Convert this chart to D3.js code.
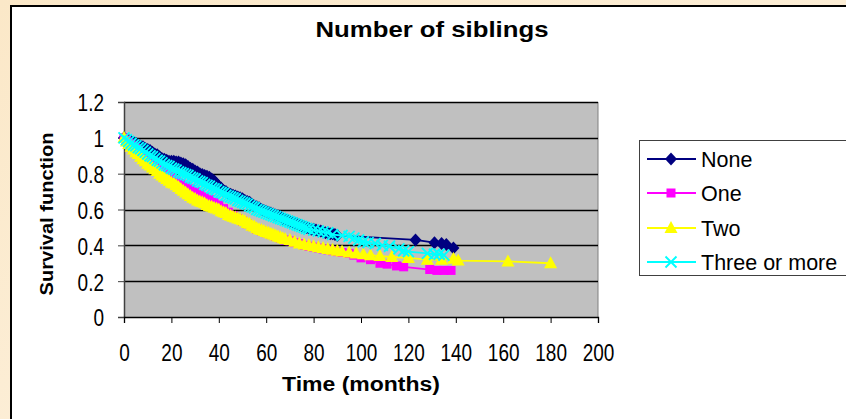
<!DOCTYPE html>
<html><head><meta charset="utf-8">
<script src="https://cdn.jsdelivr.net/npm/d3@7"></script>
<style>body{margin:0;overflow:hidden}svg{display:block}text{font-family:"Liberation Sans",Arial,sans-serif}</style>
</head><body><svg id="c" width="846" height="419"></svg>
<script>
const title = "Number of siblings";
const xLabel = "Time (months)";
const yLabel = "Survival function";
const xTicks = [0,20,40,60,80,100,120,140,160,180,200];
const yTicks = [0,0.2,0.4,0.6,0.8,1,1.2];
const seriesNames = ["None","One","Two","Three or more"];
const seriesColors = ["#000080","#FF00FF","#FFFF00","#00FFFF"];

const noneTime = [0,1,2,3,4,5,6,7,8,9,10,11,12,13,14,15,16,17,18,19,20,21,22,23,24,25,26,27,28,29,30,31,32,33,34,35,36,37,38,39,40,41,42,43,44,45,46,47,48,49,50,51,52,53,54,55,56,57,58,59,60,61,62,63,64,65,66,67,68,69,70,71,72,73,74,75,76,77,78,79,80,81,82,83,84,85,86,87,88,89,90,123,131,134,136,139];
const noneSurv = [1,0.99,0.985,0.98,0.975,0.97,0.96,0.955,0.95,0.94,0.935,0.93,0.92,0.91,0.905,0.895,0.885,0.88,0.875,0.87,0.87,0.87,0.865,0.865,0.86,0.855,0.85,0.84,0.83,0.825,0.815,0.81,0.8,0.795,0.79,0.785,0.78,0.77,0.76,0.745,0.73,0.72,0.705,0.7,0.69,0.685,0.68,0.675,0.67,0.665,0.66,0.65,0.645,0.64,0.63,0.62,0.615,0.61,0.6,0.595,0.59,0.585,0.58,0.575,0.57,0.565,0.56,0.55,0.545,0.54,0.535,0.53,0.525,0.52,0.515,0.51,0.505,0.5,0.495,0.49,0.49,0.485,0.48,0.48,0.475,0.47,0.47,0.465,0.465,0.46,0.455,0.43,0.415,0.41,0.405,0.385];

const oneTime = [0,1,2,3,4,5,6,7,8,9,10,11,12,13,14,15,16,17,18,19,20,22,24,26,28,30,32,34,36,38,40,42,44,46,48,50,52,54,56,58,60,62,64,66,68,70,72,74,76,78,80,82,84,86,88,90,92,95,97,100,104,108,111,115,118,129,132,135,138];
const oneSurv = [1,0.985,0.97,0.96,0.95,0.94,0.93,0.915,0.905,0.895,0.88,0.87,0.86,0.85,0.84,0.83,0.82,0.81,0.795,0.785,0.775,0.76,0.745,0.73,0.715,0.7,0.685,0.67,0.655,0.64,0.625,0.605,0.585,0.565,0.55,0.535,0.52,0.505,0.49,0.48,0.47,0.46,0.45,0.44,0.43,0.425,0.415,0.41,0.4,0.395,0.39,0.385,0.38,0.375,0.37,0.365,0.36,0.355,0.345,0.33,0.32,0.3,0.295,0.285,0.28,0.265,0.26,0.26,0.26];

const twoTime = [0,1,2,3,4,5,6,7,8,9,10,11,12,13,14,15,16,17,18,19,20,21,22,23,24,25,26,27,28,29,30,31,32,33,34,35,36,37,38,39,40,41,42,43,44,45,46,47,48,49,50,51,52,53,54,55,56,57,58,59,60,61,62,63,64,65,66,67,68,70,72,74,76,78,80,82,84,86,88,90,92,95,98,101,104,108,113,120,128,134,139,141,162,180];
const twoSurv = [1,0.98,0.965,0.95,0.935,0.92,0.91,0.895,0.88,0.87,0.855,0.845,0.835,0.825,0.815,0.8,0.79,0.78,0.77,0.76,0.75,0.745,0.735,0.725,0.715,0.705,0.695,0.685,0.675,0.665,0.66,0.65,0.645,0.64,0.635,0.625,0.62,0.615,0.61,0.605,0.6,0.59,0.585,0.58,0.57,0.565,0.56,0.555,0.55,0.545,0.54,0.535,0.525,0.52,0.51,0.505,0.495,0.49,0.485,0.48,0.475,0.47,0.465,0.46,0.455,0.45,0.445,0.44,0.435,0.43,0.42,0.41,0.405,0.4,0.395,0.39,0.385,0.38,0.375,0.37,0.365,0.36,0.355,0.35,0.345,0.34,0.335,0.33,0.32,0.32,0.325,0.315,0.31,0.3];

const threeTime = [0,1,2,3,4,5,6,7,8,9,10,11,12,13,14,15,16,17,18,19,20,21,22,23,24,25,26,27,28,29,30,31,32,33,34,35,36,37,38,39,40,41,42,43,44,45,46,47,48,49,50,51,52,53,54,55,56,57,58,59,60,61,62,63,64,65,66,67,68,69,70,71,72,73,74,75,76,77,78,80,82,84,86,88,92,95,97,99,101,103,106,109,112,116,118,120,128,131,133,135];
const threeSurv = [1,0.99,0.98,0.97,0.96,0.955,0.945,0.94,0.93,0.92,0.91,0.9,0.895,0.885,0.875,0.87,0.86,0.85,0.845,0.84,0.83,0.825,0.82,0.81,0.805,0.8,0.795,0.79,0.78,0.775,0.77,0.76,0.755,0.75,0.74,0.735,0.73,0.72,0.715,0.71,0.7,0.695,0.69,0.68,0.675,0.67,0.665,0.66,0.65,0.645,0.64,0.635,0.63,0.62,0.615,0.61,0.6,0.595,0.59,0.585,0.58,0.575,0.57,0.565,0.56,0.555,0.55,0.545,0.54,0.535,0.53,0.525,0.52,0.515,0.51,0.505,0.5,0.495,0.49,0.485,0.48,0.475,0.47,0.46,0.455,0.45,0.44,0.43,0.42,0.415,0.41,0.4,0.395,0.38,0.37,0.365,0.355,0.35,0.35,0.345];

const seriesTimes = [noneTime, oneTime, twoTime, threeTime];
const seriesSurv = [noneSurv, oneSurv, twoSurv, threeSurv];
const markerTypes = ["diamond","square","triangle","x"];

const svg = d3.select("#c");
const defs = svg.append("defs");
const g = defs.append("linearGradient").attr("id","bg").attr("x1","0").attr("y1","0").attr("x2","1").attr("y2","1");
g.append("stop").attr("offset","0").attr("stop-color","#FBE8C8");
g.append("stop").attr("offset","1").attr("stop-color","#FDF3E2");
svg.append("rect").attr("width",846).attr("height",419).attr("fill","url(#bg)");
svg.append("rect").attr("x",11).attr("y",6).attr("width",840).attr("height",420).attr("fill","#fff").attr("stroke","#000").attr("stroke-width",2);

const P = {l:124, t:102, r:598, b:317};
const x = d3.scaleLinear().domain([0,200]).range([P.l,P.r]);
const y = d3.scaleLinear().domain([0,1.2]).range([P.b,P.t]);

svg.append("rect").attr("x",P.l).attr("y",P.t).attr("width",P.r-P.l).attr("height",P.b-P.t).attr("fill","#C0C0C0");
svg.append("line").attr("x1",P.r).attr("x2",P.r).attr("y1",P.t).attr("y2",P.b).attr("stroke","#808080").attr("stroke-width",1);

// gridlines
svg.append("g").selectAll("line").data(yTicks.filter(d=>d>0)).join("line")
  .attr("x1",P.l).attr("x2",P.r).attr("y1",d=>Math.round(y(d))+0.5).attr("y2",d=>Math.round(y(d))+0.5)
  .attr("stroke","#000").attr("stroke-width",1.3);

const yAxis = svg.append("g").attr("transform",`translate(${P.l},0)`)
  .call(d3.axisLeft(y).tickValues(yTicks).tickFormat(d=>d3.format("")(+d.toFixed(1))).tickSize(6));
yAxis.select(".domain").attr("stroke","#404040").attr("stroke-width",1.5);
yAxis.selectAll(".tick line").attr("stroke","#404040");
yAxis.selectAll(".tick text").attr("font-size",19).attr("fill","#000").attr("font-family","Liberation Sans, Arial, sans-serif")
  .attr("x",-20).attr("y",6.9).attr("dy",null).attr("text-anchor","end").attr("transform","scale(1,1.3)");

const xAxis = svg.append("g").attr("transform",`translate(0,${P.b})`)
  .call(d3.axisBottom(x).tickValues(xTicks).tickSize(6));
xAxis.select(".domain").attr("stroke","#000").attr("stroke-width",1.3);
xAxis.selectAll(".tick line").attr("stroke","#000");
xAxis.selectAll(".tick text").attr("font-size",19).attr("fill","#000").attr("font-family","Liberation Sans, Arial, sans-serif")
  .attr("y",33.5).attr("dy",null).attr("transform","scale(1,1.3)");

svg.append("text").attr("x",432).attr("y",37).attr("text-anchor","middle").attr("font-size",22).attr("font-weight","bold")
  .attr("textLength",233).attr("lengthAdjust","spacingAndGlyphs").text(title);
svg.append("text").attr("x",361).attr("y",391).attr("text-anchor","middle").attr("font-size",20).attr("font-weight","bold")
  .attr("textLength",158).attr("lengthAdjust","spacingAndGlyphs").text(xLabel);
svg.append("text").attr("transform","translate(53,214) rotate(-90)").attr("text-anchor","middle").attr("font-size",19).attr("font-weight","bold")
  .attr("textLength",163).attr("lengthAdjust","spacingAndGlyphs").text(yLabel);

function marker(sel, type, color){
  if(type==="diamond"){
    sel.append("path").attr("d","M0,-6.5L6,0L0,6.5L-6,0Z").attr("fill",color);
  } else if(type==="square"){
    sel.append("rect").attr("x",-4.5).attr("y",-4.5).attr("width",9).attr("height",9).attr("fill",color);
  } else if(type==="triangle"){
    sel.append("path").attr("d","M0,-7L6.5,5L-6.5,5Z").attr("fill",color);
  } else {
    sel.append("path").attr("d","M-5.5,-5.5L5.5,5.5M-5.5,5.5L5.5,-5.5").attr("stroke",color).attr("stroke-width",1.9).attr("fill","none");
  }
}

const line = d3.line().x(d=>x(d[0])).y(d=>y(d[1]));
seriesNames.forEach((name,i)=>{
  const pts = seriesTimes[i].map((t,j)=>[t, seriesSurv[i][j]]);
  const gs = svg.append("g");
  gs.append("path").datum(pts).attr("d",line).attr("fill","none").attr("stroke",seriesColors[i]).attr("stroke-width",1.8);
  gs.selectAll("g").data(pts).join("g").attr("transform",d=>`translate(${x(d[0])},${y(d[1])})`)
    .each(function(){ marker(d3.select(this), markerTypes[i], seriesColors[i]); });
});

// legend
const L = svg.append("g");
L.append("rect").attr("x",639.5).attr("y",140.5).attr("width",215).attr("height",135).attr("fill","#fff").attr("stroke","#404040").attr("stroke-width",1);
const legendY = [159,193,228,262];
seriesNames.forEach((name,i)=>{
  const ly = legendY[i];
  L.append("line").attr("x1",647).attr("x2",696).attr("y1",ly).attr("y2",ly).attr("stroke",seriesColors[i]).attr("stroke-width",1.8);
  const m = L.append("g").attr("transform",`translate(671,${ly})`);
  marker(m, markerTypes[i], seriesColors[i]);
  L.append("text").attr("x",701).attr("y",ly+8).attr("font-size",21.5).attr("fill","#000").text(name);
});
</script></body></html>
